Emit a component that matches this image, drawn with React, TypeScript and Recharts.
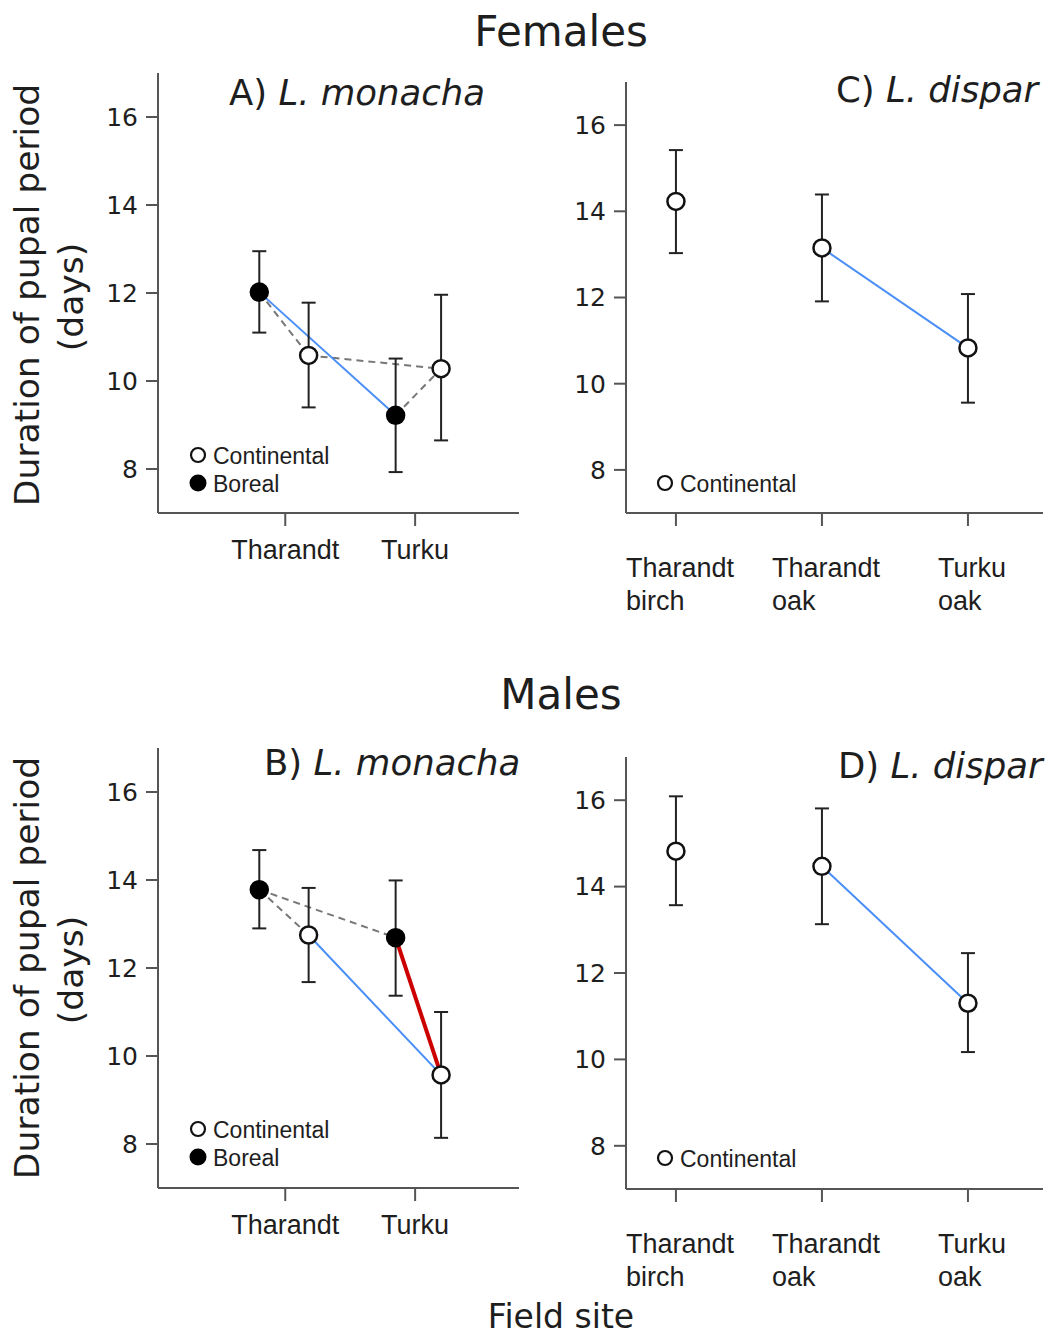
import React from 'react';
import { ComposedChart, Line, Scatter, ErrorBar, XAxis, YAxis } from 'recharts';

// ---- data (days) ----
const MONACHA_SITES = ['Tharandt', 'Turku'];
const DISPAR_SITES = [
  ['Tharandt', 'birch'],
  ['Tharandt', 'oak'],
  ['Turku', 'oak'],
];
const Y_TICKS = [8, 10, 12, 14, 16];

// L. monacha females, order Tharandt, Turku
const F_BOREAL_MEAN = [12.02, 9.22];
const F_BOREAL_LOW = [11.1, 7.93];
const F_BOREAL_HIGH = [12.95, 10.51];
const F_CONT_MEAN = [10.58, 10.28];
const F_CONT_LOW = [9.4, 8.65];
const F_CONT_HIGH = [11.78, 11.96];

// L. monacha males
const M_BOREAL_MEAN = [13.78, 12.69];
const M_BOREAL_LOW = [12.9, 11.37];
const M_BOREAL_HIGH = [14.68, 13.99];
const M_CONT_MEAN = [12.75, 9.57];
const M_CONT_LOW = [11.68, 8.14];
const M_CONT_HIGH = [13.82, 11.0];

// L. dispar (continental only): Tharandt birch, Tharandt oak, Turku oak
const DF_MEAN = [14.23, 13.15, 10.83];
const DF_LOW = [13.03, 11.91, 9.56];
const DF_HIGH = [15.42, 14.39, 12.08];
const DM_MEAN = [14.82, 14.47, 11.3];
const DM_LOW = [13.57, 13.13, 10.17];
const DM_HIGH = [16.09, 15.81, 12.46];

// which points get joined: [pop, site, pop, site, style]
const F_LINKS: [string, number, string, number, string][] = [
  ['Boreal', 0, 'Continental', 0, 'dash'],
  ['Continental', 0, 'Continental', 1, 'dash'],
  ['Boreal', 1, 'Continental', 1, 'dash'],
  ['Boreal', 0, 'Boreal', 1, 'blue'],
];
const M_LINKS: [string, number, string, number, string][] = [
  ['Boreal', 0, 'Continental', 0, 'dash'],
  ['Boreal', 0, 'Boreal', 1, 'dash'],
  ['Continental', 0, 'Continental', 1, 'blue'],
  ['Boreal', 1, 'Continental', 1, 'red'],
];
const DISPAR_LINK = [1, 2];

// side-by-side shift of the two populations around each site tick
const DODGE: Record<string, number[]> = { Boreal: [-0.2, -0.15], Continental: [0.18, 0.2] };

const LINE_STYLE: Record<string, any> = {
  dash: { stroke: '#777', strokeWidth: 2, strokeDasharray: '7 5' },
  blue: { stroke: '#4a8ff7', strokeWidth: 2 },
  red: { stroke: '#cc0000', strokeWidth: 4 },
};

const SANS = 'DejaVu Sans, Verdana, sans-serif';
const ARIAL = 'Liberation Sans, Arial, sans-serif';
const AXIS = '#555';
const INK = '#1e1e1e';

type Pt = { x: number; y: number; err: [number, number] };

function mkPoint(i: number, mean: number[], low: number[], high: number[], shift = 0): Pt {
  return { x: i + 1 + shift, y: mean[i], err: [mean[i] - low[i], high[i] - mean[i]] };
}

const OpenDot = (p: any) => (
  <circle cx={p.cx} cy={p.cy} r={8.5} fill="#fff" stroke="#111" strokeWidth={2.5} />
);
const FilledDot = (p: any) => (
  <circle cx={p.cx} cy={p.cy} r={9} fill="#000" stroke="#000" strokeWidth={1.5} />
);

const measureCanvas = typeof document !== 'undefined' ? document.createElement('canvas').getContext('2d') : null;
function textWidth(s: string, font: string) {
  if (!measureCanvas) return s.length * 14;
  measureCanvas.font = font;
  return measureCanvas.measureText(s).width;
}

const MonachaTick = (p: any) => (
  <text x={p.x} y={p.y + 31} textAnchor="middle" fontFamily={ARIAL} fontSize={27} fill={INK}>
    {MONACHA_SITES[p.payload.value - 1]}
  </text>
);

const DisparTick = (p: any) => {
  const lines = DISPAR_SITES[p.payload.value - 1];
  const w = textWidth(lines[0], `27px ${ARIAL}`);
  const x0 = p.x - w / 2 + 4;
  return (
    <text x={x0} y={p.y + 49} textAnchor="start" fontFamily={ARIAL} fontSize={27} fill={INK}>
      <tspan x={x0}>{lines[0]}</tspan>
      <tspan x={x0} dy={33}>{lines[1]}</tspan>
    </text>
  );
};

const yAxisProps = {
  type: 'number' as const,
  domain: [7, 17],
  ticks: Y_TICKS,
  allowDataOverflow: true,
  axisLine: { stroke: AXIS, strokeWidth: 2 },
  tickLine: { stroke: AXIS, strokeWidth: 2 },
  tickSize: 12,
  tickMargin: 8,
  tick: { fontFamily: SANS, fontSize: 25, fill: INK },
};

function MonachaPanel({ sets, links, top, mt, mb }: any) {
  const pts: Record<string, Pt[]> = {};
  Object.keys(sets).forEach((pop) => {
    const [mean, low, high] = sets[pop];
    pts[pop] = mean.map((_: number, i: number) => mkPoint(i, mean, low, high, DODGE[pop][i]));
  });
  return (
    <div style={{ position: 'absolute', left: 0, top }}>
      <ComposedChart width={530} height={600} margin={{ top: mt, right: 11, bottom: mb, left: 0 }}>
        <XAxis
          type="number"
          dataKey="x"
          domain={[0.02, 2.8]}
          ticks={[1, 2]}
          allowDataOverflow
          height={60}
          axisLine={{ stroke: AXIS, strokeWidth: 2 }}
          tickLine={{ stroke: AXIS, strokeWidth: 2 }}
          tickSize={13}
          tick={<MonachaTick />}
        />
        <YAxis width={158} {...yAxisProps} />
        {links.map((l: any, k: number) => (
          <Line
            key={k}
            data={[pts[l[0]][l[1]], pts[l[2]][l[3]]]}
            dataKey="y"
            dot={false}
            activeDot={false}
            isAnimationActive={false}
            {...LINE_STYLE[l[4]]}
          />
        ))}
        {['Continental', 'Boreal'].map((pop) => (
          <Scatter
            key={pop}
            data={pts[pop]}
            dataKey="y"
            isAnimationActive={false}
            shape={pop === 'Boreal' ? <FilledDot /> : <OpenDot />}
          >
            <ErrorBar dataKey="err" direction="y" width={7} stroke="#222" strokeWidth={2} />
          </Scatter>
        ))}
      </ComposedChart>
    </div>
  );
}

function DisparPanel({ mean, low, high, top, height, mt, mb }: any) {
  const pts = mean.map((_: number, i: number) => mkPoint(i, mean, low, high));
  return (
    <div style={{ position: 'absolute', left: 530, top }}>
      <ComposedChart width={519} height={height} margin={{ top: mt, right: 6, bottom: mb, left: 0 }}>
        <XAxis
          type="number"
          dataKey="x"
          domain={[0.658, 3.514]}
          ticks={[1, 2, 3]}
          allowDataOverflow
          height={100}
          axisLine={{ stroke: AXIS, strokeWidth: 2 }}
          tickLine={{ stroke: AXIS, strokeWidth: 2 }}
          tickSize={13}
          tick={<DisparTick />}
        />
        <YAxis width={96} {...yAxisProps} />
        <Line
          data={[pts[DISPAR_LINK[0]], pts[DISPAR_LINK[1]]]}
          dataKey="y"
          dot={false}
          activeDot={false}
          isAnimationActive={false}
          {...LINE_STYLE.blue}
        />
        <Scatter data={pts} dataKey="y" isAnimationActive={false} shape={<OpenDot />}>
          <ErrorBar dataKey="err" direction="y" width={7} stroke="#222" strokeWidth={2} />
        </Scatter>
      </ComposedChart>
    </div>
  );
}

function Title({ x, y, tag, species }: any) {
  return (
    <text x={x} y={y} fontFamily={SANS} fontSize={35.5} fill={INK}>
      {tag + ' '}
      <tspan fontStyle="italic">{species}</tspan>
    </text>
  );
}

function YLabel({ y }: { y: number }) {
  return (
    <g fontFamily={SANS} fontSize={34.5} fill={INK} textAnchor="middle">
      <text transform={`translate(38.5, ${y}) rotate(-90)`}>Duration of pupal period</text>
      <text transform={`translate(83, ${y + 2}) rotate(-90)`}>(days)</text>
    </g>
  );
}

function LegendBlock({ x, y, both }: { x: number; y: number; both: boolean }) {
  return (
    <g fontFamily={ARIAL} fontSize={23} fill={INK}>
      <circle cx={x} cy={y} r={7} fill="#fff" stroke="#111" strokeWidth={2.2} />
      <text x={x + 15} y={y + 9}>Continental</text>
      {both && (
        <>
          <circle cx={x} cy={y + 28} r={8.5} fill="#000" />
          <text x={x + 15} y={y + 37}>Boreal</text>
        </>
      )}
    </g>
  );
}

export default function App() {
  return (
    <div style={{ position: 'absolute', left: 0, top: 0, width: 1049, height: 1338, background: '#fff', overflow: 'hidden' }}>
      <MonachaPanel
        sets={{
          Continental: [F_CONT_MEAN, F_CONT_LOW, F_CONT_HIGH],
          Boreal: [F_BOREAL_MEAN, F_BOREAL_LOW, F_BOREAL_HIGH],
        }}
        links={F_LINKS}
        top={0}
        mt={73}
        mb={27}
      />
      <DisparPanel mean={DF_MEAN} low={DF_LOW} high={DF_HIGH} top={0} height={640} mt={82} mb={27} />
      <MonachaPanel
        sets={{
          Continental: [M_CONT_MEAN, M_CONT_LOW, M_CONT_HIGH],
          Boreal: [M_BOREAL_MEAN, M_BOREAL_LOW, M_BOREAL_HIGH],
        }}
        links={M_LINKS}
        top={660}
        mt={88}
        mb={12}
      />
      <DisparPanel mean={DM_MEAN} low={DM_LOW} high={DM_HIGH} top={660} height={678} mt={97} mb={49} />
      <svg
        width={1049}
        height={1338}
        style={{ position: 'absolute', left: 0, top: 0, pointerEvents: 'none' }}
      >
        <text x={561} y={46} textAnchor="middle" fontFamily={SANS} fontSize={42} fill={INK}>Females</text>
        <text x={561} y={709} textAnchor="middle" fontFamily={SANS} fontSize={42} fill={INK}>Males</text>
        <text x={561} y={1328} textAnchor="middle" fontFamily={SANS} fontSize={33} fill={INK}>Field site</text>
        <YLabel y={295} />
        <YLabel y={968} />
        <Title x={229} y={105} tag="A)" species="L. monacha" />
        <Title x={836} y={102} tag="C)" species="L. dispar" />
        <Title x={264} y={775} tag="B)" species="L. monacha" />
        <Title x={838} y={778} tag="D)" species="L. dispar" />
        <LegendBlock x={198} y={455} both />
        <LegendBlock x={665} y={483} both={false} />
        <LegendBlock x={198} y={1129} both />
        <LegendBlock x={665} y={1158} both={false} />
      </svg>
    </div>
  );
}
